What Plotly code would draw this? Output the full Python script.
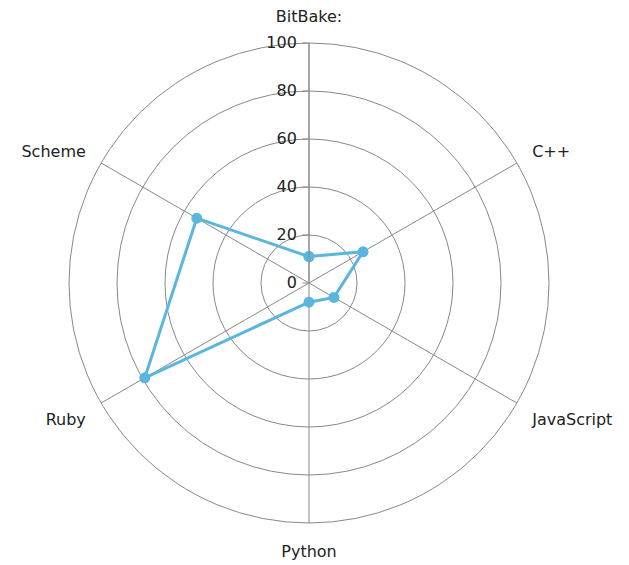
import plotly.graph_objects as go

categories = ["BitBake:", "C++", "JavaScript", "Python", "Ruby", "Scheme"]
values = [11, 26, 12, 8, 79, 54]
radial_ticks = [0, 20, 40, 60, 80, 100]

r = values + values[:1]
theta = categories + categories[:1]

fig = go.Figure()
fig.add_trace(go.Scatterpolar(
    r=r, theta=theta, mode="lines+markers",
    line=dict(color="#5bb6de", width=3),
    marker=dict(color="#5bb6de", size=11),
    showlegend=False,
))

fig.update_layout(
    width=629, height=565,
    margin=dict(l=61, r=88, t=35, b=50),
    paper_bgcolor="white",
    font=dict(family="DejaVu Sans", size=16, color="#222"),
    polar=dict(
        bgcolor="white",
        angularaxis=dict(
            direction="clockwise", rotation=90,
            categoryorder="array", categoryarray=categories,
            showline=True, linecolor="#888", linewidth=1,
            gridcolor="#888", gridwidth=1,
            ticks="outside", ticklen=14, tickcolor="rgba(0,0,0,0)",
            tickfont=dict(size=16, color="#222"),
        ),
        radialaxis=dict(
            range=[0, 100], tickvals=radial_ticks,
            angle=90, tickangle=90, side="counterclockwise",
            showline=True, linecolor="#888", linewidth=1,
            gridcolor="#888", gridwidth=1,
            ticks="outside", ticklen=6, tickcolor="#888",
            tickfont=dict(size=16, color="#222"),
        ),
    ),
)

fig.write_html("out.html")
